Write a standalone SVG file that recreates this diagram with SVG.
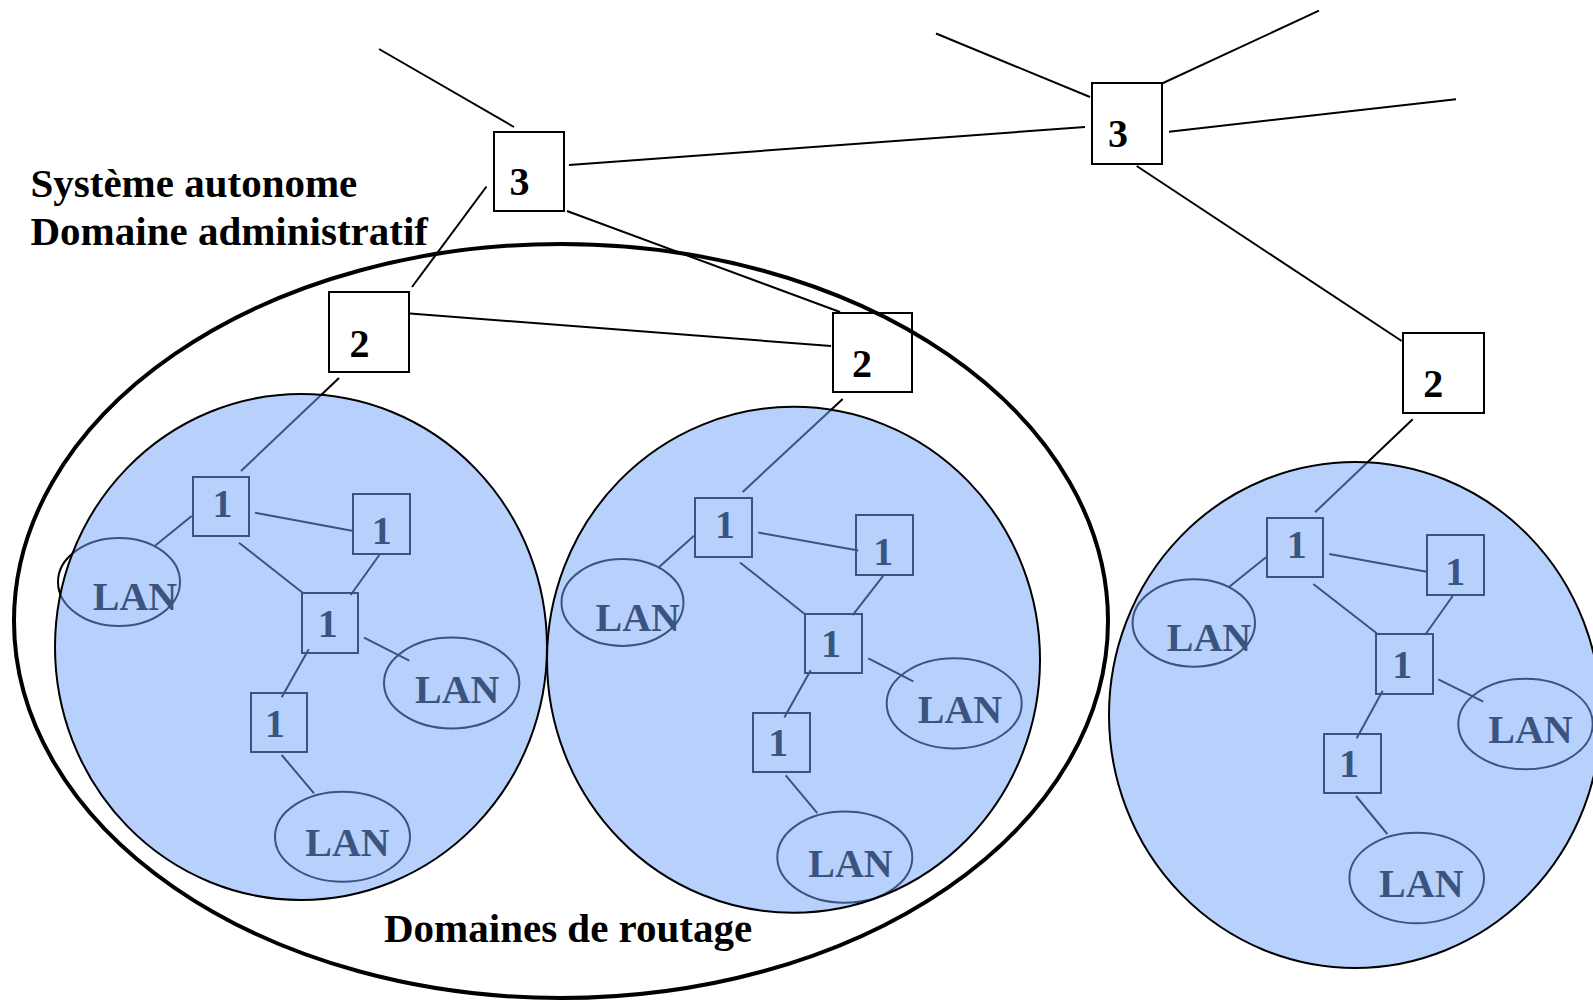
<svg xmlns="http://www.w3.org/2000/svg" width="1593" height="1000" viewBox="0 0 1593 1000">
  <style>
    .ln { stroke: #000; stroke-width: 2; fill: none; }
    .box { stroke: #000; stroke-width: 2; fill: none; }
    .lan { stroke: #000; stroke-width: 2; fill: none; }
    .t { font-family: "Liberation Serif", "Times New Roman", serif; font-weight: bold; fill: #000; }
    .num { font-size: 40px; text-anchor: middle; }
    .lbl { font-size: 41px; }
    .as { stroke: #000; stroke-width: 4; fill: none; }
    .dom { fill: #73a5f9; fill-opacity: 0.51; stroke: #000; stroke-width: 2; }
  </style>
  <rect width="1593" height="1000" fill="#fff"/>

  <!-- autonomous system boundary -->
  <g id="as-boundary">
    <ellipse class="as" cx="561" cy="621" rx="547" ry="377"/>
  </g>

  <!-- links between routers and LANs -->
  <g id="connectors">
    <line class="ln" x1="379" y1="49" x2="514" y2="127"/>
    <line class="ln" x1="569" y1="165" x2="1085" y2="127"/>
    <line class="ln" x1="567" y1="211" x2="840" y2="312"/>
    <line class="ln" x1="486.5" y1="186.5" x2="412" y2="287"/>
    <line class="ln" x1="410" y1="313.5" x2="831" y2="346"/>
    <line class="ln" x1="936" y1="33.5" x2="1090" y2="97"/>
    <line class="ln" x1="1162" y1="83.5" x2="1319" y2="10.7"/>
    <line class="ln" x1="1169" y1="131.7" x2="1456" y2="99.3"/>
    <line class="ln" x1="1136.7" y1="166" x2="1401.7" y2="341"/>
    <line class="ln" x1="339" y1="378" x2="241" y2="471"/>
    <line class="ln" x1="842.7" y1="398.9" x2="742.7" y2="491.9"/>
    <line class="ln" x1="1412.7" y1="419.3" x2="1315" y2="512.3"/>

    <line class="ln" x1="191.7" y1="516" x2="155" y2="545.7"/>
    <line class="ln" x1="255" y1="512.7" x2="353.3" y2="531"/>
    <line class="ln" x1="239" y1="542.7" x2="303.3" y2="593.3"/>
    <line class="ln" x1="379.3" y1="555" x2="350.7" y2="595"/>
    <line class="ln" x1="364" y1="637.7" x2="409.3" y2="660.7"/>
    <line class="ln" x1="308.7" y1="649.3" x2="281.7" y2="697.3"/>
    <line class="ln" x1="281.7" y1="755" x2="314" y2="793.3"/>

    <line class="ln" x1="694" y1="535.7" x2="658.3" y2="567.7"/>
    <line class="ln" x1="758.3" y1="532.6" x2="858.3" y2="550.5"/>
    <line class="ln" x1="740" y1="562.5" x2="805" y2="614.2"/>
    <line class="ln" x1="883.3" y1="575.6" x2="852.7" y2="615.2"/>
    <line class="ln" x1="868.3" y1="658.3" x2="913.3" y2="681.3"/>
    <line class="ln" x1="810.7" y1="670.3" x2="784.3" y2="717.5"/>
    <line class="ln" x1="785.7" y1="775.4" x2="817.3" y2="813.2"/>

    <line class="ln" x1="1266" y1="557.3" x2="1229.3" y2="586.7"/>
    <line class="ln" x1="1329.3" y1="554" x2="1426.7" y2="571.7"/>
    <line class="ln" x1="1313.3" y1="584" x2="1376.7" y2="633.3"/>
    <line class="ln" x1="1452.7" y1="596" x2="1425" y2="635"/>
    <line class="ln" x1="1438.3" y1="679.3" x2="1483.3" y2="701.7"/>
    <line class="ln" x1="1382.7" y1="690.7" x2="1356.7" y2="738.3"/>
    <line class="ln" x1="1356" y1="796" x2="1387.3" y2="834"/>
  </g>

  <!-- level 3 routers -->
  <g id="r3-a"><rect class="box" x="494" y="132" width="70" height="79"/><text class="t num" x="519.5" y="195">3</text></g>
  <g id="r3-b"><rect class="box" x="1092" y="83" width="70" height="81"/><text class="t num" x="1118" y="147">3</text></g>

  <!-- level 2 routers -->
  <g id="r2-a"><rect class="box" x="329" y="292" width="80" height="80"/><text class="t num" x="359.5" y="357">2</text></g>
  <g id="r2-b"><rect class="box" x="833" y="313" width="79" height="79"/><text class="t num" x="862" y="377">2</text></g>
  <g id="r2-c"><rect class="box" x="1403" y="333" width="81" height="80"/><text class="t num" x="1433.3" y="397.3">2</text></g>

  <!-- routing domain A contents -->
  <g id="r1-a1"><rect class="box" x="193" y="477" width="56" height="59"/><text class="t num" x="222.5" y="517.3">1</text></g>
  <g id="r1-a2"><rect class="box" x="353" y="494" width="57" height="60"/><text class="t num" x="381.7" y="544">1</text></g>
  <g id="r1-a3"><rect class="box" x="302" y="593" width="56" height="60"/><text class="t num" x="327.7" y="637.3">1</text></g>
  <g id="r1-a4"><rect class="box" x="251" y="693" width="56" height="59"/><text class="t num" x="275" y="736.7">1</text></g>
  <g id="lan-a1"><ellipse class="lan" cx="119" cy="582" rx="61" ry="44"/><text class="t num" x="135" y="610">LAN</text></g>
  <g id="lan-a2"><ellipse class="lan" cx="451.7" cy="683" rx="67.7" ry="45.5"/><text class="t num" x="457.2" y="702.7">LAN</text></g>
  <g id="lan-a3"><ellipse class="lan" cx="342.5" cy="836.7" rx="67.5" ry="45"/><text class="t num" x="347.5" y="856">LAN</text></g>

  <!-- routing domain B contents -->
  <g id="r1-b1"><rect class="box" x="695" y="498" width="57" height="59"/><text class="t num" x="725" y="537.7">1</text></g>
  <g id="r1-b2"><rect class="box" x="856" y="515" width="57" height="60"/><text class="t num" x="883.3" y="565.3">1</text></g>
  <g id="r1-b3"><rect class="box" x="805" y="614" width="57" height="59"/><text class="t num" x="831" y="657.2">1</text></g>
  <g id="r1-b4"><rect class="box" x="753" y="713" width="57" height="59"/><text class="t num" x="778.3" y="756.1">1</text></g>
  <g id="lan-b1"><ellipse class="lan" cx="622.5" cy="602.5" rx="61" ry="43.4"/><text class="t num" x="637.7" y="630.7">LAN</text></g>
  <g id="lan-b2"><ellipse class="lan" cx="954.2" cy="703.4" rx="67.5" ry="45.1"/><text class="t num" x="960" y="722.7">LAN</text></g>
  <g id="lan-b3"><ellipse class="lan" cx="844.8" cy="857.1" rx="67.5" ry="45.6"/><text class="t num" x="850.5" y="876.6">LAN</text></g>

  <!-- routing domain C contents -->
  <g id="r1-c1"><rect class="box" x="1267" y="518" width="56" height="59"/><text class="t num" x="1296.7" y="558.3">1</text></g>
  <g id="r1-c2"><rect class="box" x="1427" y="535" width="57" height="60"/><text class="t num" x="1455.3" y="585">1</text></g>
  <g id="r1-c3"><rect class="box" x="1376" y="634" width="57" height="60"/><text class="t num" x="1402.3" y="678.3">1</text></g>
  <g id="r1-c4"><rect class="box" x="1324" y="734" width="57" height="59"/><text class="t num" x="1349" y="776.7">1</text></g>
  <g id="lan-c1"><ellipse class="lan" cx="1193.8" cy="623" rx="61.2" ry="43.7"/><text class="t num" x="1209" y="650.7">LAN</text></g>
  <g id="lan-c2"><ellipse class="lan" cx="1525.5" cy="724" rx="67.2" ry="45.3"/><text class="t num" x="1530.5" y="743.3">LAN</text></g>
  <g id="lan-c3"><ellipse class="lan" cx="1416.7" cy="878" rx="67.3" ry="45.3"/><text class="t num" x="1421.3" y="897.3">LAN</text></g>

  <!-- routing domains: translucent blue discs over their contents -->
  <g id="domain-a"><ellipse class="dom" cx="301" cy="647" rx="246" ry="253"/></g>
  <g id="domain-b"><ellipse class="dom" cx="793.5" cy="659.8" rx="246.5" ry="253"/></g>
  <g id="domain-c"><ellipse class="dom" cx="1355" cy="715" rx="246" ry="253"/></g>

  <!-- captions -->
  <g id="captions">
    <text class="t lbl" x="30.5" y="196.5">Système autonome</text>
    <text class="t lbl" x="30.5" y="245">Domaine administratif</text>
    <text class="t lbl" x="384" y="942">Domaines de routage</text>
  </g>
</svg>
